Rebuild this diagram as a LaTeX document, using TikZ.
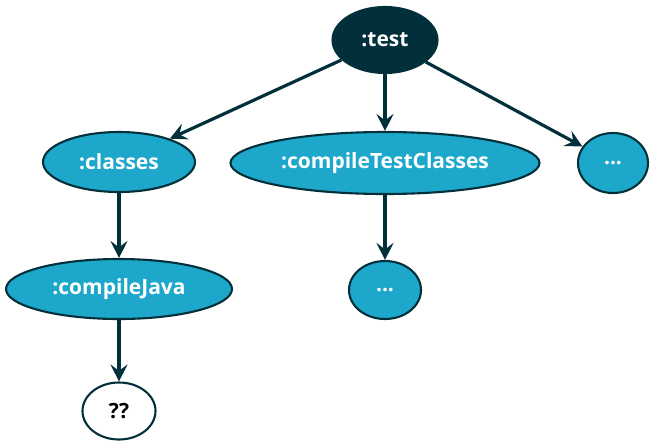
\documentclass[tikz,border=0pt]{standalone}
\usepackage{fontspec}
\setmainfont{Open Sans}
\usetikzlibrary{shapes.geometric,arrows.meta}
\definecolor{gdark}{HTML}{02303A}
\definecolor{gblue}{HTML}{1DA8CB}
\begin{document}
\begin{tikzpicture}[x=1pt,y=-1pt,
  task/.style={ellipse,draw=gdark,line width=2.1pt,fill=gblue,text=white,inner sep=0pt,font=\bfseries\fontsize{21}{24}\selectfont},
  root/.style={task,fill=gdark},
  unknown/.style={task,fill=white,text=black},
  dep/.style={draw=gdark,line width=3.2pt,-{Stealth[length=17pt,width=17pt,inset=6.5pt]}}]
\useasboundingbox (0,0) rectangle (652,447);
\node[root,minimum width=105pt,minimum height=66pt] (test) at (385,40) {:test};
\node[task,minimum width=152pt,minimum height=60pt] (classes) at (119,162) {:classes};
\node[task,minimum width=309pt,minimum height=62pt] (ctc) at (385,163) {:compileTestClasses};
\node[task,minimum width=70pt,minimum height=60pt] (more1) at (613,163) {...};
\node[task,minimum width=226pt,minimum height=60pt] (cj) at (119,289) {:compileJava};
\node[task,minimum width=72pt,minimum height=58pt] (more2) at (385,290) {...};
\node[unknown,minimum width=73pt,minimum height=57pt] (unk) at (119,411) {??};
\draw[dep] (test) -- (classes);
\draw[dep] (test) -- (ctc);
\draw[dep] (test) -- (more1);
\draw[dep] (classes) -- (cj);
\draw[dep] (ctc) -- (more2);
\draw[dep] (cj) -- (unk);
\end{tikzpicture}
\end{document}
